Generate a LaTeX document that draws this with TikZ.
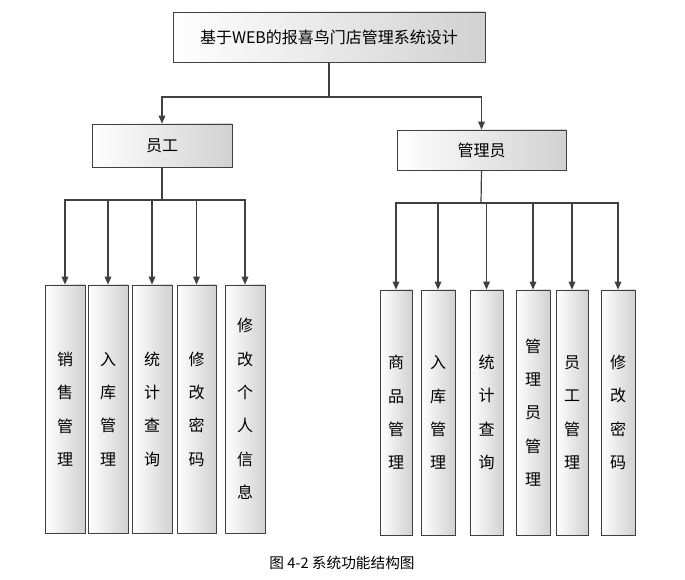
\documentclass[tikz,border=0pt]{standalone}
\usepackage{fontspec}
\setmainfont{Noto Sans CJK SC}
\usetikzlibrary{positioning,arrows.meta}
\tikzset{
  box/.style={draw=black!75,line width=0.6pt,left color=white,right color=black!18,
    inner sep=0pt,font=\fontsize{12}{14}\selectfont},
  vbox/.style={box,align=center,font=\fontsize{12}{25}\selectfont},
  link/.style={draw=black!75,line width=0.9pt},
  arr/.style={link,-{Triangle[length=6pt,width=5pt]}}
}
\begin{document}
\begin{tikzpicture}[x=0.75pt,y=-0.75pt]
  \useasboundingbox (0,0) rectangle (685,580);
  \node (sys) [box,minimum width=312*0.75pt,minimum height=50*0.75pt] at (329,37) {基于WEB的报喜鸟门店管理系统设计};
  \node (emp) [box,minimum width=140*0.75pt,minimum height=43*0.75pt] at (162,145.5) {员工};
  \node (adm) [box,minimum width=169*0.75pt,minimum height=40*0.75pt] at (481.5,150) {管理员};
  % left children
  \foreach \n/\x/\w/\t in {l1/65/40/销\\售\\管\\理, l2/108/40/入\\库\\管\\理,
      l3/152/40/统\\计\\查\\询, l4/196.5/39/修\\改\\密\\码, l5/245/40/修\\改\\个\\人\\信\\息}
    \node (\n) [vbox,minimum width=\w*0.75pt,minimum height=248*0.75pt] at (\x,409) {\t};
  % right children
  \foreach \n/\x/\w/\t in {r1/396/32/商\\品\\管\\理, r2/438/34/入\\库\\管\\理,
      r3/486.5/33/统\\计\\查\\询, r4/533/34/管\\理\\员\\管\\理, r5/572/32/员\\工\\管\\理,
      r6/618/34/修\\改\\密\\码}
    \node (\n) [vbox,minimum width=\w*0.75pt,minimum height=245*0.75pt] at (\x,412.5) {\t};
  \coordinate (sj) at (329,97);
  \coordinate (ej) at (162,200);
  \coordinate (aj) at (481,203);
  \draw[link] (sys.south) -- (sj);
  \draw[arr] (sj) -| (emp.north);
  \draw[arr] (sj) -| (adm.north);
  \draw[link] (emp.south) -- (ej);
  \foreach \n in {l1,l2,l3,l4,l5} \draw[arr] (ej) -| (\n.north);
  \draw[link] (adm.south) -- (aj);
  \foreach \n in {r1,r2,r3,r4,r5,r6} \draw[arr] (aj) -| (\n.north);
  \node (cap) at (342,563) {\fontsize{11}{13}\selectfont 图 4-2 系统功能结构图};
\end{tikzpicture}
\end{document}
